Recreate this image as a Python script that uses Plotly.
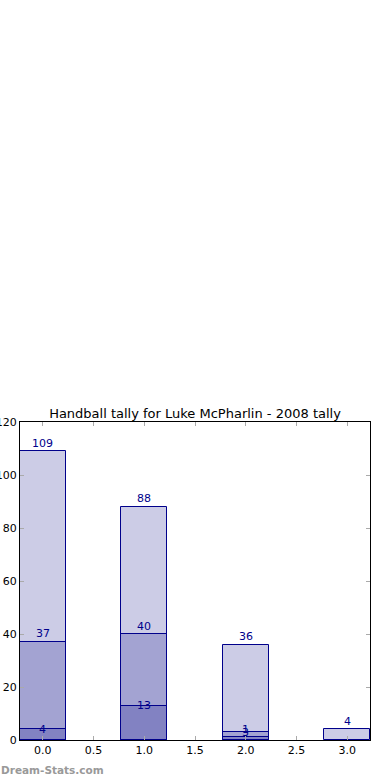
import plotly.graph_objects as go

positions = [0, 1, 2, 3]
total_vals = [109, 88, 36, 4]
mid_vals = [37, 40, 1, None]
low_vals = [4, 13, 3, None]
title_text = "Handball tally for Luke McPharlin - 2008 tally"
y_ticks = [0, 20, 40, 60, 80, 100, 120]
x_ticks = [0.0, 0.5, 1.0, 1.5, 2.0, 2.5, 3.0]

FILL = "rgba(0,0,128,0.2)"
EDGE = "#00008B"
FONT = "DejaVu Sans"

fig = go.Figure()
for vals in (total_vals, mid_vals, low_vals):
    fig.add_trace(go.Bar(
        x=positions, y=vals, width=0.45,
        marker=dict(color=FILL, line=dict(color=EDGE, width=1)),
        hoverinfo="skip", showlegend=False,
    ))

# value labels: first two series above the bar top, last centred on it
for vals, shift in ((total_vals, 8), (mid_vals, 8), (low_vals, 0)):
    for xp, v in zip(positions, vals):
        if v is None:
            continue
        fig.add_annotation(x=xp, y=v, text=str(v), showarrow=False,
                           xref="x", yref="y", yanchor="middle", yshift=shift,
                           font=dict(family=FONT, size=11, color=EDGE))

fig.add_annotation(x=0, y=0, xref="paper", yref="paper", xanchor="left", yanchor="middle",
                   xshift=-21, yshift=-30,
                   text="<b>Dream-Stats.com</b>", showarrow=False,
                   font=dict(family=FONT, size=10.5, color="#999999"))

fig.update_layout(
    width=390, height=780,
    margin=dict(l=20, r=20, t=422, b=40, autoexpand=False),
    paper_bgcolor="white", plot_bgcolor="white",
    barmode="overlay", bargap=0,
    font=dict(family=FONT, size=11, color="black"),
    title=dict(text=title_text, x=0.5, xanchor="center", xref="paper",
               y=1 - 413 / 780, yref="container", yanchor="middle",
               font=dict(family=FONT, size=13, color="black")),
)
fig.update_xaxes(range=[-0.225, 3.225], tickvals=x_ticks, ticktext=[f"{t:.1f}" for t in x_ticks],
                 ticks="inside", ticklen=4, tickcolor="#aaaaaa", mirror="ticks", automargin=False,
                 showline=True, linecolor="black", linewidth=1, showgrid=False, zeroline=False)
fig.update_yaxes(range=[0, 120], tickvals=y_ticks, automargin=False,
                 ticks="inside", ticklen=4, tickcolor="#aaaaaa", mirror="ticks",
                 showline=True, linecolor="black", linewidth=1, showgrid=False, zeroline=False)

fig.write_html("out.html", config={"displayModeBar": False},
               post_script="document.body.style.margin='0';")
